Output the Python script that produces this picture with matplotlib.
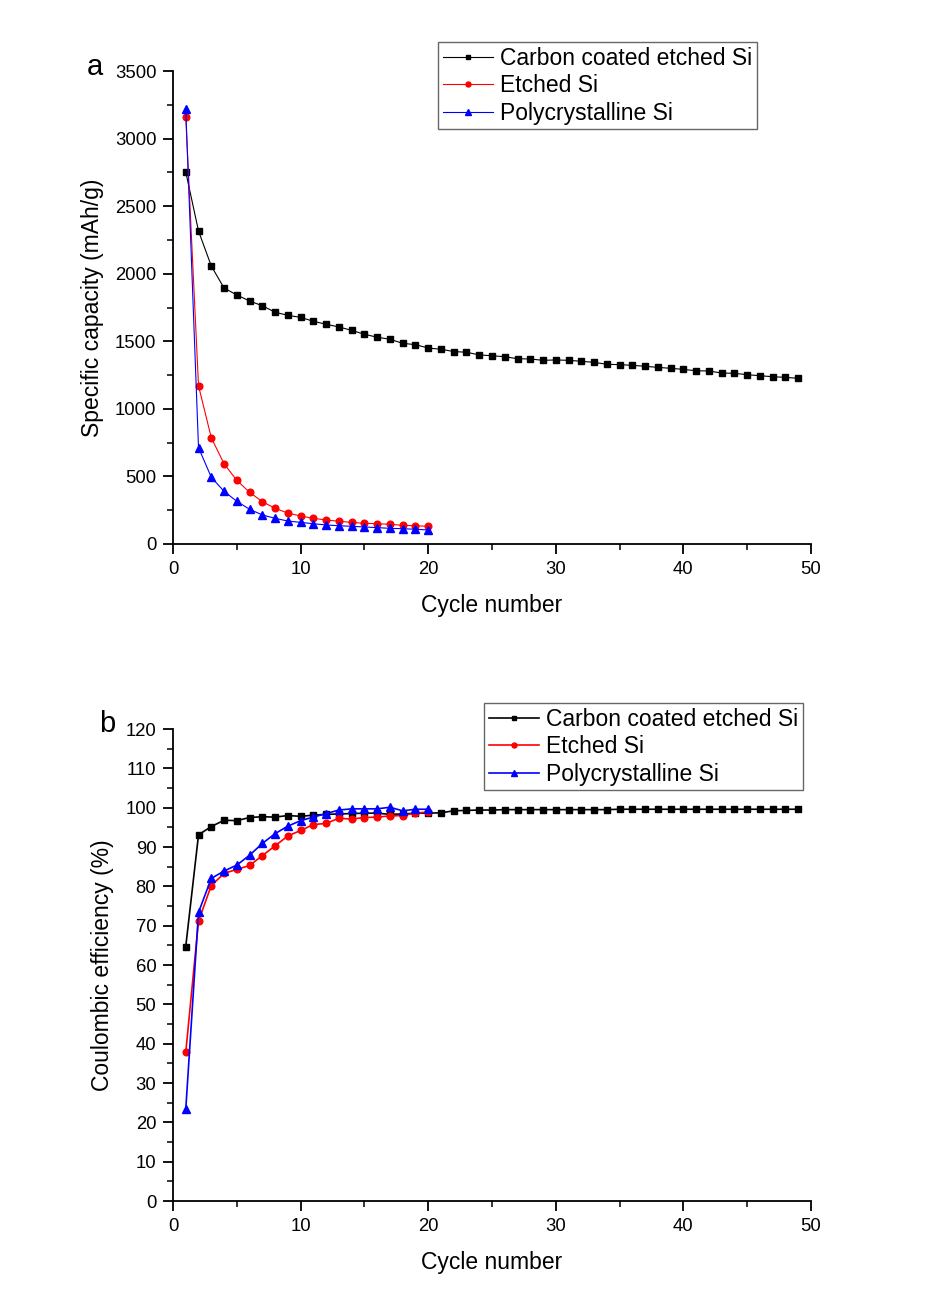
"""Si anode cycling: specific capacity (a) and coulombic efficiency (b)."""

import numpy as np
import matplotlib
matplotlib.use('Agg')
import matplotlib.pyplot as plt
from matplotlib.ticker import MultipleLocator

plt.rcParams['font.family'] = ['Liberation Sans', 'DejaVu Sans']

# 数据
cycles_carbon = np.arange(1, 50)
cycles_si = np.arange(1, 21)

cap_carbon = [2753, 2316, 2057, 1894, 1843, 1798, 1763, 1715, 1692, 1677,
              1648, 1626, 1606, 1581, 1552, 1530, 1515, 1485, 1475, 1450,
              1441, 1424, 1419, 1399, 1393, 1386, 1371, 1369, 1359, 1362,
              1359, 1352, 1344, 1330, 1327, 1322, 1315, 1307, 1300, 1292,
              1282, 1280, 1265, 1263, 1253, 1245, 1238, 1233, 1226]
cap_etched = [3162, 1171, 786, 594, 471, 383, 313, 264, 229, 207,
              190, 178, 168, 160, 153, 150, 146, 138, 135, 131]
cap_poly = [3216, 713, 494, 390, 316, 257, 215, 190, 170, 160,
            150, 141, 135, 131, 126, 121, 116, 113, 109, 104]

ce_carbon = [64.7, 93.1, 95.2, 96.8, 96.7, 97.5, 97.7, 97.6, 98.0, 97.8,
             98.1, 98.3, 98.4, 98.5, 98.6, 98.6, 98.3, 98.4, 98.6, 98.6,
             98.7, 99.2, 99.3, 99.4, 99.4, 99.5, 99.5, 99.5, 99.5, 99.5,
             99.5, 99.5, 99.5, 99.5, 99.6, 99.6, 99.6, 99.6, 99.6, 99.6,
             99.6, 99.6, 99.6, 99.6, 99.6, 99.6, 99.6, 99.6, 99.6]
ce_etched = [37.8, 71.2, 80.2, 83.3, 84.3, 85.3, 87.8, 90.3, 92.8, 94.2,
             95.7, 96.0, 97.3, 97.1, 97.5, 97.6, 97.9, 98.0, 98.6, 98.9]
ce_poly = [23.3, 73.4, 82.0, 83.9, 85.4, 87.9, 90.9, 93.4, 95.3, 96.7,
           97.6, 98.5, 99.4, 99.7, 99.7, 99.7, 100.1, 99.2, 99.6, 99.6]

labels = ['Carbon coated etched Si', 'Etched Si', 'Polycrystalline Si']

W, H = 925, 1304


def style_axes(ax, ymax, ymajor, yminor):
    """只保留左、下坐标轴，刻度朝外"""
    for side in ('top', 'right'):
        ax.spines[side].set_visible(False)
    for side in ('left', 'bottom'):
        ax.spines[side].set_linewidth(1.3)
    ax.set_xlim(0, 50)
    ax.set_ylim(0, ymax)
    ax.xaxis.set_major_locator(MultipleLocator(10))
    ax.xaxis.set_minor_locator(MultipleLocator(5))
    ax.yaxis.set_major_locator(MultipleLocator(ymajor))
    ax.yaxis.set_minor_locator(MultipleLocator(yminor))
    ax.tick_params(which='major', direction='out', length=7, width=1.3,
                   labelsize=13.3, pad=5)
    ax.tick_params(which='minor', direction='out', length=4, width=1.1)
    ax.set_xlabel('Cycle number', fontsize=16.5, labelpad=12)


def add_legend(ax, x_px, y_px):
    leg = ax.legend(loc='upper left', bbox_to_anchor=(x_px / W, 1 - y_px / H),
                    bbox_transform=ax.figure.transFigure, fontsize=16.5,
                    frameon=True, fancybox=False, framealpha=1,
                    markerscale=0.75, handlelength=2.2, handletextpad=0.3,
                    borderpad=0.2, labelspacing=0.2, borderaxespad=0)
    leg.get_frame().set_edgecolor('#666666')
    leg.get_frame().set_linewidth(1.0)


fig = plt.figure(figsize=(9.25, 13.04), dpi=100)
ax_a = fig.add_axes([173 / W, 1 - 544 / H, 638 / W, 473 / H])
ax_b = fig.add_axes([173 / W, 1 - 1201 / H, 638 / W, 472 / H])

ax_a.plot(cycles_carbon, cap_carbon, 's-', color='black', label=labels[0],
          linewidth=0.8, markersize=4.2)
ax_a.plot(cycles_si, cap_etched, 'o-', color='red', label=labels[1],
          linewidth=0.8, markersize=4.8)
ax_a.plot(cycles_si, cap_poly, '^-', color='blue', label=labels[2],
          linewidth=0.8, markersize=5.5)
style_axes(ax_a, 3500, 500, 250)
ax_a.set_ylabel('Specific capacity (mAh/g)', fontsize=16.5, labelpad=8)
add_legend(ax_a, 438, 42)

ax_b.plot(cycles_carbon, ce_carbon, 's-', color='black', label=labels[0],
          linewidth=1.2, markersize=4.2)
ax_b.plot(cycles_si, ce_etched, 'o-', color='red', label=labels[1],
          linewidth=1.2, markersize=4.8)
ax_b.plot(cycles_si, ce_poly, '^-', color='blue', label=labels[2],
          linewidth=1.2, markersize=5.5)
style_axes(ax_b, 120, 10, 5)
ax_b.set_ylabel('Coulombic efficiency (%)', fontsize=16.5, labelpad=8)
add_legend(ax_b, 484, 703)

fig.text(95 / W, 1 - 67 / H, 'a', fontsize=21, ha='center', va='center')
fig.text(107 / W, 1 - 724 / H, 'b', fontsize=21, ha='center', va='center')

fig.savefig('out.png', dpi=100)
